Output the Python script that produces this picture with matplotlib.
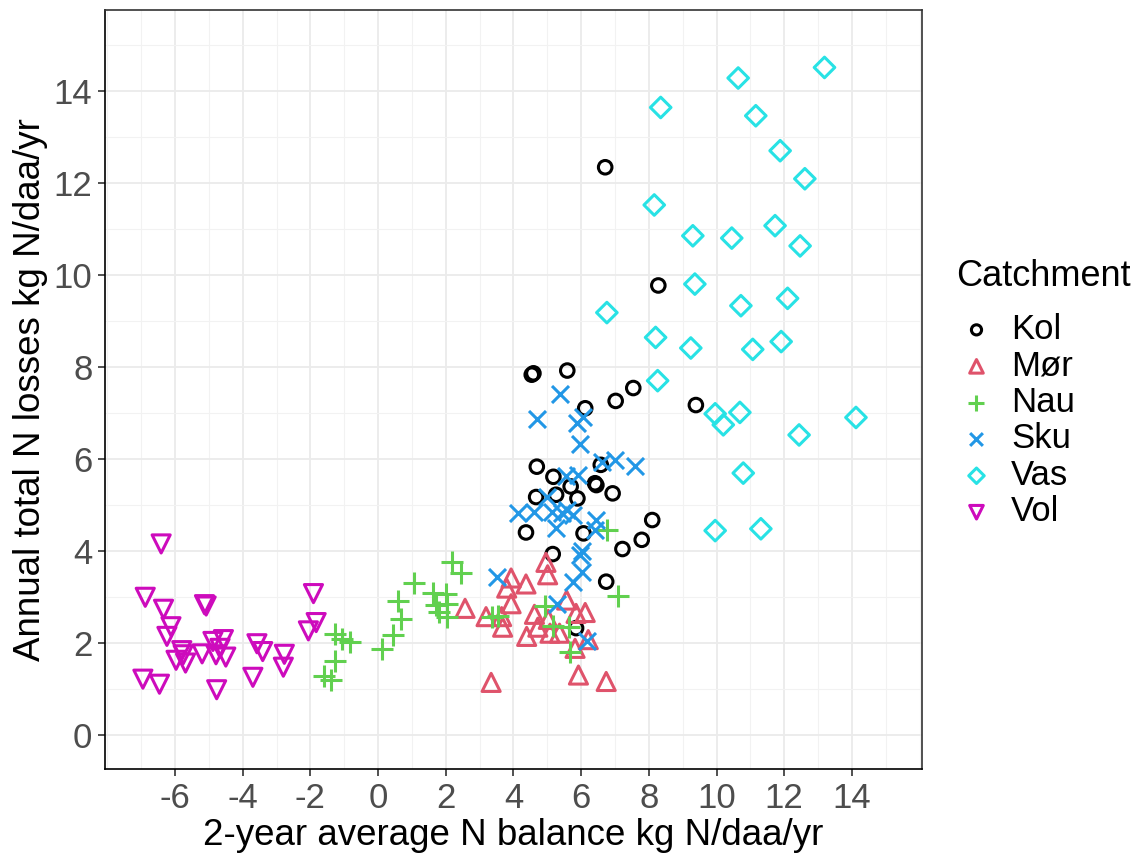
import numpy as np
import matplotlib
matplotlib.use("Agg")
import matplotlib.pyplot as plt
from matplotlib.ticker import MultipleLocator, FixedLocator

plt.rcParams['font.family'] = ['Liberation Sans', 'DejaVu Sans']
plt.rcParams['axes.unicode_minus'] = False

# data (x = 2-yr avg N balance, y = annual N losses)
kol_x = [4.59, 4.54, 5.59, 7.54, 7.02, 6.12, 4.69, 5.18, 6.58, 6.41, 6.45, 5.69,
         6.93, 5.26, 4.67, 5.89, 8.10, 4.37, 6.07, 7.79, 5.16, 7.22, 6.74, 5.85,
         6.71, 8.28, 9.39]
kol_y = [7.86, 7.83, 7.92, 7.54, 7.26, 7.10, 5.83, 5.61, 5.87, 5.47, 5.43, 5.40,
         5.25, 5.22, 5.17, 5.14, 4.67, 4.40, 4.38, 4.24, 3.93, 4.04, 3.33, 2.32,
         12.34, 9.77, 7.17]

mor_x = [4.96, 5.01, 3.93, 4.37, 3.80, 3.93, 2.57, 3.19, 3.65, 3.68, 4.62, 5.03,
         5.57, 5.85, 6.12, 4.72, 4.39, 5.08, 5.36, 6.21, 5.82, 5.92, 6.74, 3.34]
mor_y = [3.75, 3.48, 3.41, 3.28, 3.19, 2.85, 2.75, 2.57, 2.57, 2.34, 2.62, 2.51,
         2.93, 2.64, 2.66, 2.34, 2.14, 2.21, 2.21, 2.07, 1.88, 1.30, 1.16, 1.14]

nau_x = [2.18, 2.45, 1.07, 1.62, 2.00, 0.60, 1.71, 2.05, 1.81, 2.03, 0.68, 0.45,
         0.11, -1.27, -1.07, -0.83, -1.27, -1.60, -1.39, 3.36, 3.55, 4.93, 5.18,
         5.65, 5.67, 6.76, 7.10]
nau_y = [3.75, 3.52, 3.31, 3.09, 3.06, 2.91, 2.83, 2.85, 2.68, 2.57, 2.51, 2.17,
         1.86, 2.19, 2.08, 2.01, 1.61, 1.27, 1.20, 2.57, 2.59, 2.80, 2.37,
         2.34, 1.79, 4.46, 3.01]

sku_x = [5.38, 4.69, 5.87, 6.04, 5.97, 6.61, 7.00, 7.59, 5.55, 5.92, 4.98, 4.13,
         4.62, 5.13, 5.43, 5.59, 5.75, 5.26, 6.44, 6.41, 6.02, 5.97, 6.02, 5.77,
         3.51, 5.28, 6.17]
sku_y = [7.41, 6.86, 6.77, 6.90, 6.33, 5.94, 5.98, 5.85, 5.62, 5.65, 5.18, 4.82,
         4.85, 4.85, 4.83, 4.88, 4.78, 4.49, 4.67, 4.46, 3.99, 3.92, 3.55, 3.33,
         3.43, 2.84, 2.03]

vas_x = [13.19, 10.64, 8.35, 11.16, 11.88, 12.61, 8.16, 9.30, 10.45, 11.73, 12.47,
         9.36, 10.72, 12.10, 8.20, 9.24, 11.07, 11.91, 8.26, 9.96, 10.20, 10.69,
         14.12, 12.44, 10.79, 9.96, 11.31, 6.76]
vas_y = [14.51, 14.28, 13.64, 13.46, 12.70, 12.09, 11.52, 10.85, 10.80, 11.07, 10.63,
         9.80, 9.33, 9.49, 8.64, 8.41, 8.38, 8.55, 7.70, 6.98, 6.74, 7.01,
         6.90, 6.52, 5.69, 4.44, 4.48, 9.18]

vol_x = [-6.41, -6.88, -6.34, -5.13, -5.08, -1.91, -6.12, -6.24, -1.83, -2.06, -5.80,
         -5.76, -5.97, -5.69, -5.20, -4.88, -4.57, -4.79, -4.50, -4.67, -3.58, -3.41,
         -2.77, -2.80, -3.70, -6.95, -6.46, -4.77]
vol_y = [4.15, 2.99, 2.73, 2.83, 2.80, 3.07, 2.35, 2.14, 2.44, 2.26, 1.83,
         1.74, 1.62, 1.56, 1.76, 2.03, 2.07, 1.74, 1.69, 1.88, 1.98, 1.81,
         1.75, 1.47, 1.25, 1.21, 1.10, 0.98]

names = ['Kol', 'Mør', 'Nau', 'Sku', 'Vas', 'Vol']
series = [(kol_x, kol_y), (mor_x, mor_y), (nau_x, nau_y),
          (sku_x, sku_y), (vas_x, vas_y), (vol_x, vol_y)]
colors = ['#000000', '#DF536B', '#61D04F', '#2297E6', '#28E2E5', '#CD0BBC']
markers = ['o', '^', '+', 'x', 'D', 'v']
sizes = [95, 170, 230, 150, 110, 170]

x_ticks = [-6, -4, -2, 0, 2, 4, 6, 8, 10, 12, 14]
y_ticks = [0, 2, 4, 6, 8, 10, 12, 14]

fig = plt.figure(figsize=(11.46, 8.59), dpi=100)
ax = fig.add_axes([0.0916, 0.1044, 0.8045 - 0.0916, 0.9884 - 0.1044])

for (xs, ys), name, c, m, s in zip(series, names, colors, markers, sizes):
    if m in ('+', 'x'):
        ax.scatter(xs, ys, marker=m, s=s, c=c, linewidths=2.2, label=name, zorder=3)
    else:
        ax.scatter(xs, ys, marker=m, s=s, facecolors='none', edgecolors=c,
                   linewidths=2.2, label=name, zorder=3)

ax.set_xlim(-8.07, 16.07)
ax.set_ylim(-0.75, 15.76)
ax.xaxis.set_major_locator(FixedLocator(x_ticks))
ax.yaxis.set_major_locator(FixedLocator(y_ticks))
ax.xaxis.set_minor_locator(MultipleLocator(1))
ax.yaxis.set_minor_locator(MultipleLocator(1))
ax.grid(which='major', color='#EBEBEB', lw=1.3, zorder=0)
ax.grid(which='minor', color='#F2F2F2', lw=0.8, zorder=0)
ax.set_axisbelow(True)
ax.tick_params(which='minor', length=0)
ax.tick_params(which='major', length=5, width=1.2, color='#333333',
               labelsize=25, labelcolor='#4D4D4D', pad=4)
for sp in ax.spines.values():
    sp.set_color('#333333')
    sp.set_linewidth(1.2)
ax.spines['left'].set_color('black')
ax.spines['bottom'].set_color('black')

ax.set_xlabel('2-year average N balance kg N/daa/yr', fontsize=26.5, labelpad=2)
ax.set_ylabel('Annual total N losses kg N/daa/yr', fontsize=26.5, labelpad=4)

leg = ax.legend(title='Catchment', loc='center left', bbox_to_anchor=(1.02, 0.495),
                frameon=False, fontsize=25, title_fontsize=26, handletextpad=0.4,
                labelspacing=0.1, handlelength=1.2, markerscale=0.75, borderpad=0)
leg._legend_box.align = 'left'
leg._legend_box.sep = 14

fig.savefig('out.png', dpi=100)
